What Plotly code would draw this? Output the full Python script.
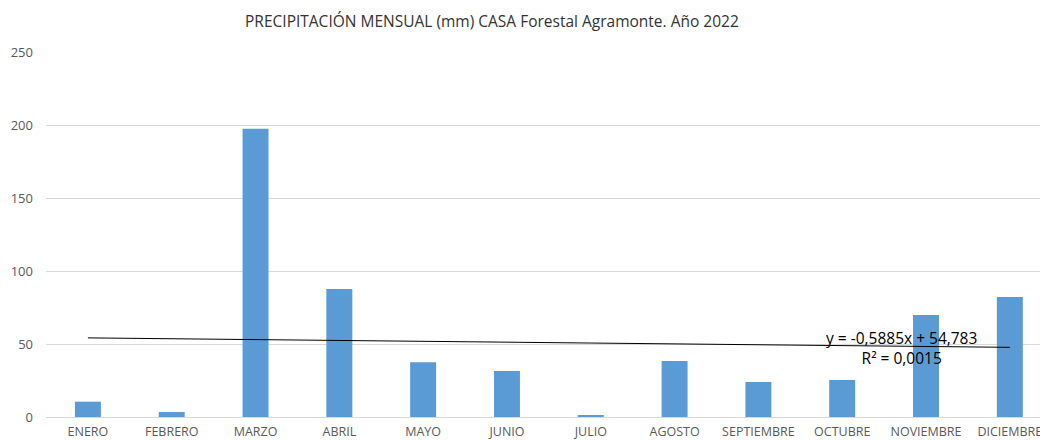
"""Monthly rainfall bar chart with linear trend line."""

import plotly.graph_objects as go

MONTHS = ["ENERO", "FEBRERO", "MARZO", "ABRIL", "MAYO", "JUNIO", "JULIO",
          "AGOSTO", "SEPTIEMBRE", "OCTUBRE", "NOVIEMBRE", "DICIEMBRE"]
RAIN_MM = [10.5, 3.4, 197.5, 87.7, 37.5, 31.5, 0.7, 38.4, 24.0, 25.4, 69.8, 82.2]
TREND_SLOPE = -0.5885
TREND_INTERCEPT = 54.783
TREND_LABEL = "y = -0,5885x + 54,783<br>R² = 0,0015"
Y_TICKS = [0, 50, 100, 150, 200, 250]

FONT = "Open Sans, Liberation Sans, sans-serif"

idx = list(range(len(MONTHS)))
trend = [TREND_SLOPE * (i + 1) + TREND_INTERCEPT for i in idx]

fig = go.Figure()
fig.add_bar(x=idx, y=RAIN_MM, marker_color="#5B9BD5", marker_line_width=0,
            name="precipitación")
fig.add_scatter(x=idx, y=trend, mode="lines", line={"color": "#000000", "width": 1},
                name="tendencia", hoverinfo="skip")

fig.add_annotation(x=9.71, y=47.3, text=TREND_LABEL, showarrow=False,
                   xanchor="center", yanchor="middle", align="center",
                   font={"family": FONT, "size": 15.5, "color": "#000000"})

fig.update_layout(
    width=1040, height=441,
    margin={"l": 46, "r": 0, "t": 52, "b": 24},
    paper_bgcolor="white", plot_bgcolor="white",
    showlegend=False, bargap=0.69,
    font={"family": FONT, "size": 12, "color": "#595959"},
    title={"text": "PRECIPITACIÓN MENSUAL (mm) CASA Forestal Agramonte. Año 2022",
           "x": 0.473, "xanchor": "center", "y": 0.95, "yanchor": "middle",
           "font": {"family": FONT, "size": 15.5, "color": "#333333"}},
)
fig.update_xaxes(range=[-0.5, 11.36], tickmode="array", tickvals=idx, ticktext=MONTHS,
                 showgrid=False, showline=True, linecolor="#D9D9D9", ticks="",
                 zeroline=False, automargin=False, ticklabeloverflow="allow",
                 tickfont={"size": 12.5}, ticklabelstandoff=3)
fig.update_yaxes(range=[0, 250], tickvals=Y_TICKS, showgrid=True, gridcolor="#D9D9D9",
                 zeroline=False, showline=False, ticks="", automargin=False,
                 ticklabelstandoff=12, tickfont={"size": 13})

# drop the default 8px body margin so the figure fills the window exactly
fig.write_html("out.html", config={"displayModeBar": False},
               post_script="document.body.style.margin='0px';")
